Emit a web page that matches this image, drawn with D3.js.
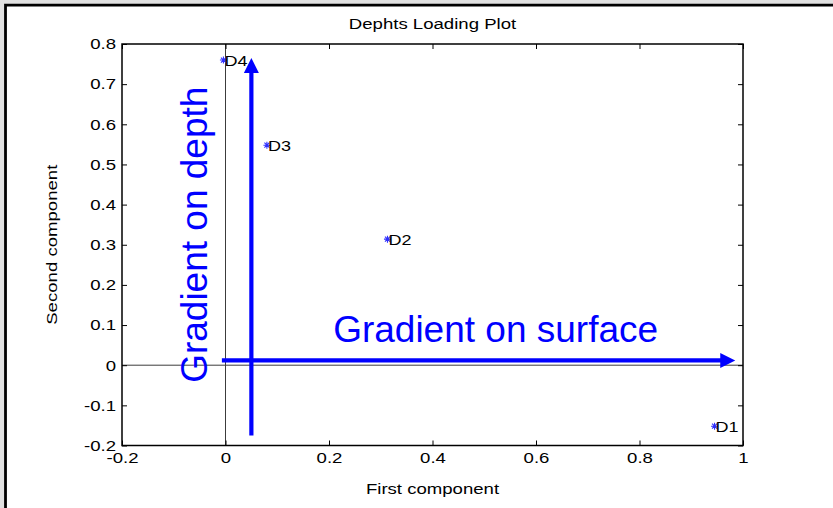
<!DOCTYPE html>
<html>
<head>
<meta charset="utf-8">
<script src="https://cdn.jsdelivr.net/npm/d3@7"></script>
<style>
  html, body { margin: 0; padding: 0; background: #e1e1e1; }
  svg { display: block; }
  text { font-family: "Liberation Sans", Arial, Helvetica, sans-serif; }
</style>
</head>
<body>
<svg id="chart" width="833" height="508"></svg>
<script>
// Loadings of the four depths on the first two components
const depthNames = ["D1", "D2", "D3", "D4"];
const firstComponent = [0.945, 0.313, 0.080, -0.004];
const secondComponent = [-0.152, 0.314, 0.548, 0.760];

// Axis ticks
const xTicks = [-0.2, 0, 0.2, 0.4, 0.6, 0.8, 1];
const xTickLabels = ["-0.2", "0", "0.2", "0.4", "0.6", "0.8", "1"];
const yTicks = [-0.2, -0.1, 0, 0.1, 0.2, 0.3, 0.4, 0.5, 0.6, 0.7, 0.8];
const yTickLabels = ["-0.2", "-0.1", "0", "0.1", "0.2", "0.3", "0.4", "0.5", "0.6", "0.7", "0.8"];

// Annotation arrows (data units): start and tip
const arrowStarts = [[0.05, -0.175], [-0.007, 0.012]];
const arrowTips = [[0.05, 0.765], [0.985, 0.012]];
const arrowTexts = ["Gradient on depth", "Gradient on surface"];
const arrowTextAnchors = [[-0.036, -0.044], [0.208, 0.0585]];

const W = 833, H = 508;
const margin = { left: 122, right: 90, top: 44, bottom: 62.5 };
const fs = 15;    // axis lettering size
const sx = 1.24;  // horizontal stretch of the axis lettering

const svg = d3.select("#chart");

// figure background and frame
svg.append("rect").attr("width", W).attr("height", H).attr("fill", "#e1e1e1");
svg.append("rect").attr("x", 4).attr("y", 4).attr("width", W - 4).attr("height", H - 4).attr("fill", "#fff");
svg.append("path")
  .attr("d", `M5.5,${H} V5.2 H${W}`)
  .attr("fill", "none").attr("stroke", "#000").attr("stroke-width", 2.8);

const x = d3.scaleLinear().domain([-0.2, 1]).range([margin.left, W - margin.right]);
const y = d3.scaleLinear().domain([-0.2, 0.8]).range([H - margin.bottom, margin.top]);

const plot = svg.append("g");

// zero reference lines
plot.append("line")
  .attr("x1", x(0)).attr("x2", x(0)).attr("y1", y(-0.2)).attr("y2", y(0.8))
  .attr("stroke", "#3c3c3c").attr("stroke-width", 1);
plot.append("line")
  .attr("x1", x(-0.2)).attr("x2", x(1)).attr("y1", y(0)).attr("y2", y(0))
  .attr("stroke", "#3c3c3c").attr("stroke-width", 1);

// axes with inward ticks on all four sides
function styleAxis(g) {
  g.select(".domain").remove();
  g.selectAll(".tick line").attr("stroke", "#000").attr("stroke-width", 1);
  g.selectAll(".tick text").attr("fill", "#000").style("font-size", fs + "px");
}
const fmtX = (d, i) => xTickLabels[i];
const fmtY = (d, i) => yTickLabels[i];

const gx = svg.append("g").attr("transform", `translate(0,${y(-0.2)})`)
  .call(d3.axisBottom(x).tickValues(xTicks).tickFormat(fmtX).tickSizeInner(-5).tickSizeOuter(0).tickPadding(7));
styleAxis(gx);
gx.selectAll(".tick text").attr("transform", `scale(${sx},1)`);

const gy = svg.append("g").attr("transform", `translate(${x(-0.2)},0)`)
  .call(d3.axisLeft(y).tickValues(yTicks).tickFormat(fmtY).tickSizeInner(-5).tickSizeOuter(0).tickPadding(6));
styleAxis(gy);
gy.selectAll(".tick text").attr("x", -6 / sx).attr("transform", `scale(${sx},1)`);

const gt = svg.append("g").attr("transform", `translate(0,${y(0.8)})`)
  .call(d3.axisTop(x).tickValues(xTicks).tickFormat("").tickSizeInner(-5).tickSizeOuter(0));
styleAxis(gt);
const gr = svg.append("g").attr("transform", `translate(${x(1)},0)`)
  .call(d3.axisRight(y).tickValues(yTicks).tickFormat("").tickSizeInner(-5).tickSizeOuter(0));
styleAxis(gr);

// axes box
svg.append("rect")
  .attr("x", x(-0.2)).attr("y", y(0.8))
  .attr("width", x(1) - x(-0.2)).attr("height", y(-0.2) - y(0.8))
  .attr("fill", "none").attr("stroke", "#000").attr("stroke-width", 1.5);

// title and axis labels
const cx = (x(-0.2) + x(1)) / 2;
svg.append("text")
  .attr("transform", `translate(${cx},29) scale(${sx},1)`)
  .attr("text-anchor", "middle").style("font-size", fs + "px").text("Dephts Loading Plot");
svg.append("text")
  .attr("transform", `translate(${cx},494) scale(${sx},1)`)
  .attr("text-anchor", "middle").style("font-size", fs + "px").text("First component");
svg.append("text")
  .attr("transform", `translate(57,${(y(-0.2) + y(0.8)) / 2}) rotate(-90) scale(${sx},1)`)
  .attr("text-anchor", "middle").style("font-size", fs + "px").text("Second component");

// arrows
const arrowColor = "#0000ff";
arrowStarts.forEach((s, i) => {
  const t = arrowTips[i];
  const x0 = x(s[0]), y0 = y(s[1]), x1 = x(t[0]), y1 = y(t[1]);
  const ang = Math.atan2(y1 - y0, x1 - x0);
  const headLen = 15, headHalf = 7.5;
  const bx = x1 - headLen * Math.cos(ang), by = y1 - headLen * Math.sin(ang);
  plot.append("line")
    .attr("x1", x0).attr("y1", y0).attr("x2", bx + 2 * Math.cos(ang)).attr("y2", by + 2 * Math.sin(ang))
    .attr("stroke", arrowColor).attr("stroke-width", 4.2);
  const px = -Math.sin(ang), py = Math.cos(ang);
  plot.append("path")
    .attr("d", `M${x1},${y1} L${bx + headHalf * px},${by + headHalf * py} L${bx - headHalf * px},${by - headHalf * py} Z`)
    .attr("fill", arrowColor);
});

// arrow captions
plot.append("text")
  .attr("transform", `translate(${x(arrowTextAnchors[0][0])},${y(arrowTextAnchors[0][1])}) rotate(-90)`)
  .attr("fill", arrowColor).style("font-size", "37px").text(arrowTexts[0]);
plot.append("text")
  .attr("x", x(arrowTextAnchors[1][0])).attr("y", y(arrowTextAnchors[1][1]))
  .attr("fill", arrowColor).style("font-size", "37px").text(arrowTexts[1]);

// loading points as asterisk markers with labels
const pts = depthNames.map((n, i) => ({ name: n, fx: firstComponent[i], fy: secondComponent[i] }));
const star = "M-3.5,0H3.5M0,-3.5V3.5M-2.5,-2.5L2.5,2.5M-2.5,2.5L2.5,-2.5";
const pg = plot.selectAll(".pt").data(pts).enter().append("g")
  .attr("transform", d => `translate(${x(d.fx)},${y(d.fy)})`);
pg.append("path").attr("d", star).attr("stroke", "#3030ff").attr("stroke-width", 1.1).attr("fill", "none");
pg.append("text")
  .attr("transform", `translate(1,5.5) scale(${sx - 0.04},1)`)
  .style("font-size", fs + "px").attr("fill", "#000").text(d => d.name);
</script>
</body>
</html>
